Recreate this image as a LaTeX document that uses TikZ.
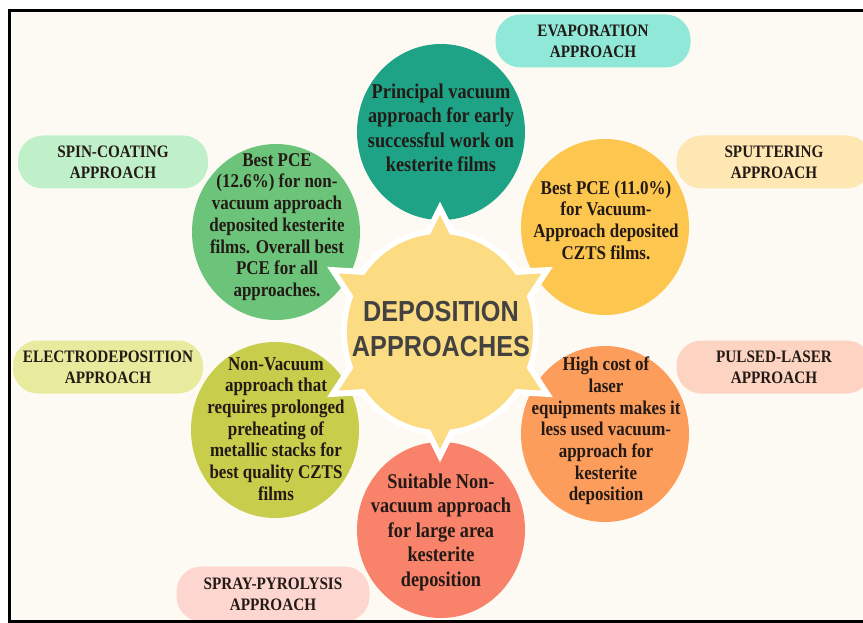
\documentclass[tikz,border=0pt]{standalone}
\usepackage{fontspec}
\newfontfamily\petalfont[FakeStretch=0.87]{Liberation Serif}
\newfontfamily\hubfont[FakeStretch=0.87]{Liberation Sans}
\usetikzlibrary{shapes.geometric}

\definecolor{paper}{HTML}{FDFAF3}
\definecolor{ink}{HTML}{231A16}
\definecolor{hubink}{HTML}{434240}
\definecolor{hubyellow}{HTML}{FCDC82}
\definecolor{tealpetal}{HTML}{1FA386}
\definecolor{greenpetal}{HTML}{6CC47A}
\definecolor{sunpetal}{HTML}{FDC64F}
\definecolor{limepetal}{HTML}{C8CD4B}
\definecolor{orangepetal}{HTML}{FD9D5B}
\definecolor{coralpetal}{HTML}{F8826A}
\definecolor{evaptag}{HTML}{8FE8D8}
\definecolor{spintag}{HTML}{C0F0C9}
\definecolor{sputtertag}{HTML}{FFE7B4}
\definecolor{electrotag}{HTML}{E8EB9D}
\definecolor{pulsedtag}{HTML}{FDD4C2}
\definecolor{spraytag}{HTML}{FDD6CF}

\begin{document}
\begin{tikzpicture}[
  x=1pt, y=-1pt,
  petal/.style={ellipse, minimum width=168pt, minimum height=176pt, inner sep=0pt},
  bigtext/.style={align=center, text=ink, inner sep=0pt,
    font=\petalfont\bfseries\fontsize{21}{24.5}\selectfont},
  smalltext/.style={align=center, text=ink, inner sep=0pt,
    font=\petalfont\bfseries\fontsize{19.5}{21.7}\selectfont},
  tag/.style={rounded corners=25pt, minimum width=195pt, minimum height=53pt,
    align=center, text=ink, font=\petalfont\bfseries\fontsize{17.5}{21}\selectfont},
  hubtext/.style={align=center, text=hubink, inner sep=0pt,
    font=\hubfont\bfseries\fontsize{29}{35}\selectfont},
  hubedge/.style={draw=white, line width=12pt},
  hubfill/.style={fill=hubyellow}
]
\clip (0,0) rectangle (863,623);
\fill[white] (0,0) rectangle (863,623);
\fill[paper] (9,11) rectangle (870,621);

\node[petal, fill=tealpetal] (teal) at (441,132) {};
\node[petal, fill=greenpetal] (green) at (276,232) {};
\node[petal, fill=sunpetal] (sun) at (605,227) {};
\node[petal, fill=limepetal] (lime) at (275,430) {};
\node[petal, fill=orangepetal] (orange) at (605,434) {};
\node[petal, fill=coralpetal] (coral) at (441,530) {};

\coordinate (hub) at (440,332);
\foreach \pass in {hubedge, hubfill} {
  \path[\pass] (hub) ellipse [x radius=93, y radius=98];
  \foreach \a in {30,90,...,330}
    \path[\pass] ([shift={(\a-10:88pt)}]hub) -- ([shift={(\a:117pt)}]hub)
      -- ([shift={(\a+10:88pt)}]hub) -- cycle;
}

\node[hubtext] (hub-text) at (441,329) {DEPOSITION\\APPROACHES};

\node[bigtext] (teal-text) at (441,128) {Principal vacuum\\approach for early\\successful work on\\kesterite films};
\node[smalltext] (green-text) at (277,227) {Best PCE\\(12.6\%) for non-\\vacuum approach\\deposited kesterite\\films. Overall best\\PCE for all\\approaches.};
\node[smalltext] (sun-text) at (606,220) {Best PCE (11.0\%)\\for Vacuum-\\Approach deposited\\CZTS films.};
\node[smalltext] (lime-text) at (276,429) {Non-Vacuum\\approach that\\requires prolonged\\preheating of\\metallic stacks for\\best quality CZTS\\films};
\node[smalltext] (orange-text) at (606,431) {High cost of\\laser\\equipments makes it\\less used vacuum-\\approach for\\kesterite\\deposition};
\node[bigtext] (coral-text) at (441,532) {Suitable Non-\\vacuum approach\\for large area\\kesterite\\deposition};

\node[tag, fill=evaptag] (evap) at (593,41) {EVAPORATION\\APPROACH};
\node[tag, fill=spintag, minimum width=190pt] (spin) at (113,162) {SPIN-COATING\\APPROACH};
\node[tag, fill=sputtertag] (sputter) at (774,162) {SPUTTERING\\APPROACH};
\node[tag, fill=electrotag, minimum width=190pt] (electro) at (108,367) {ELECTRODEPOSITION\\APPROACH};
\node[tag, fill=pulsedtag] (pulsed) at (774,367) {PULSED-LASER\\APPROACH};
\node[tag, fill=spraytag, minimum width=193pt, minimum height=55pt] (spray) at (273,594) {SPRAY-PYROLYSIS\\APPROACH};

\draw[line width=3pt] (9,11) rectangle (870,621);
\end{tikzpicture}
\end{document}
